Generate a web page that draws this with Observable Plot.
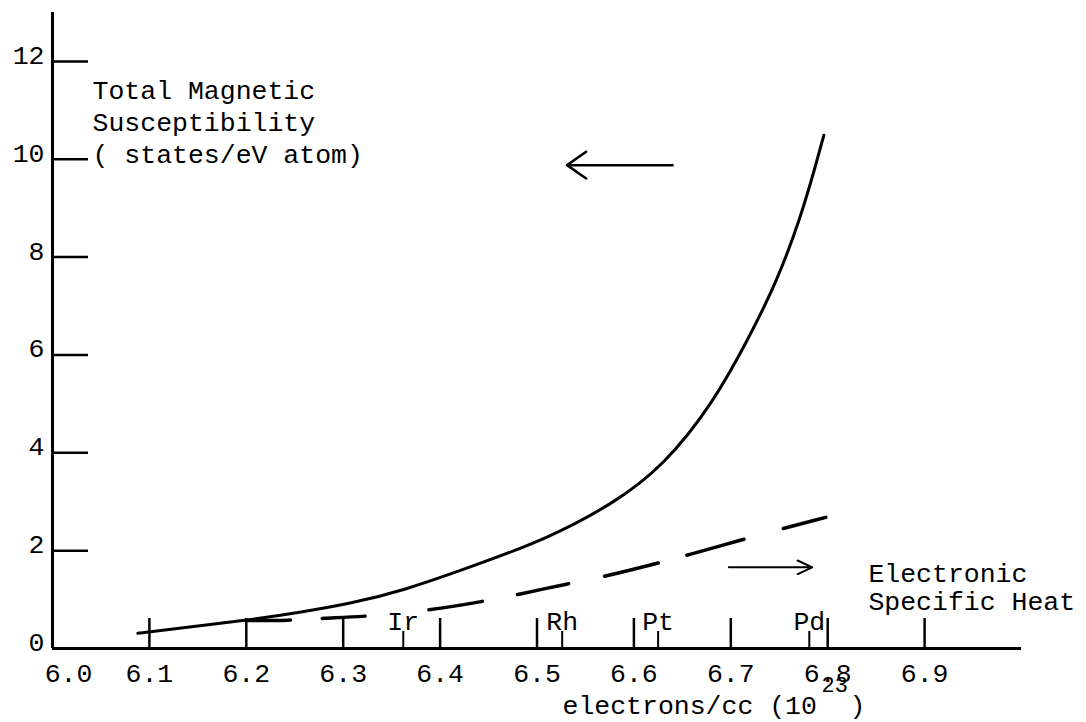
<!DOCTYPE html>
<html><head><meta charset="utf-8">
<script src="https://cdn.jsdelivr.net/npm/d3@7"></script>
<script src="https://cdn.jsdelivr.net/npm/@observablehq/plot@0.6"></script>
<style>
html,body{margin:0;padding:0;background:#fff;}
</style></head><body><div id="chart"></div>
<script>
// Total magnetic susceptibility (solid curve)
const susX = [6.088, 6.099, 6.199, 6.256, 6.307, 6.359, 6.442, 6.511, 6.579, 6.631, 6.682, 6.720, 6.748, 6.772, 6.787, 6.796];
const susY = [0.31, 0.34, 0.57, 0.74, 0.92, 1.16, 1.74, 2.25, 2.96, 3.74, 5.02, 6.40, 7.52, 8.81, 9.83, 10.49];
// Electronic specific heat (dashed curve)
const heatX = [6.199, 6.245, 6.279, 6.322, 6.389, 6.444, 6.480, 6.533, 6.570, 6.624, 6.654, 6.713, 6.753, 6.798];
const heatY = [0.57, 0.57, 0.62, 0.65, 0.78, 0.96, 1.10, 1.33, 1.47, 1.74, 1.90, 2.23, 2.45, 2.68];
// ticks
const xTicks = [6.1, 6.2, 6.3, 6.4, 6.5, 6.6, 6.7, 6.8, 6.9];
const xOrigin = [6.0];
const yTicks = [0, 2, 4, 6, 8, 10, 12];
// element markers
const elements = ["Ir", "Rh", "Pt", "Pd"];
const elementX = [6.362, 6.526, 6.625, 6.781];
// annotations
const labelTexts = ["Total Magnetic\nSusceptibility\n( states/eV atom)", "Electronic\nSpecific Heat"];
const labelX = [6.0413, 6.842];
const labelY = [9.914, 0.777];
const labelLineHeight = [1.226, 1.057];
const arrowFromX = [6.640, 6.698];
const arrowToX = [6.531, 6.784];
const arrowY = [9.88, 1.66];
const xTitleParts = ["electrons/cc (10", "23", ")"];
const xTitleX = 6.5263, xTitleY = -1.349;

const sus = susX.map((x, i) => ({x, y: susY[i]}));
const heat = heatX.map((x, i) => ({x, y: heatY[i]}));
const elementTable = elements.map((name, i) => ({name, x: elementX[i]}));
const labels = labelTexts.map((text, i) => ({text, x: labelX[i], y: labelY[i]}));
const arrows = arrowFromX.map((x1, i) => ({x1, x2: arrowToX[i], y: arrowY[i]}));
const f1 = d3.format(".1f");

const chart = Plot.plot({
  width: 1086, height: 722,
  marginLeft: 52, marginRight: 65, marginTop: 12, marginBottom: 74,
  x: {domain: [6.0, 7.0], label: null},
  y: {domain: [0, 13], label: null},
  style: {fontFamily: "'Liberation Mono', monospace", fontSize: "26.5px", color: "#000", background: "#fff"},
  marks: [
    Plot.ruleX([6.0], {stroke: "#000", strokeWidth: 3}),
    Plot.ruleY([0], {stroke: "#000", strokeWidth: 3}),
    Plot.axisY(yTicks, {tickSize: -36, strokeWidth: 2.5, tickFormat: () => "", label: null}),
    Plot.axisY(yTicks, {tickSize: 0, tickPadding: 8, dy: -6, label: null}),
    Plot.axisX(xTicks, {tickSize: -30, tickPadding: 45, strokeWidth: 2.5, tickFormat: f1, label: null}),
    Plot.axisX(xOrigin, {tickSize: 0, tickPadding: 15, dx: 16, tickFormat: f1, label: null}),
    Plot.axisX(elementX, {tickSize: -17, strokeWidth: 2, tickFormat: () => "", label: null}),
    Plot.text(elementTable, {x: "x", y: 0, text: "name", dy: -19, lineAnchor: "bottom"}),
    Plot.line(sus, {x: "x", y: "y", stroke: "#000", strokeWidth: 3, curve: "basis"}),
    Plot.line(heat, {x: "x", y: "y", stroke: "#000", strokeWidth: 3.5, strokeDasharray: "45,32,43,64,54,36,52,37,55,30,59,41,60", curve: "basis"}),
    Plot.arrow(arrows.slice(0, 1), {x1: "x1", x2: "x2", y1: "y", y2: "y", headLength: 14, headAngle: 70, strokeWidth: 2.5, stroke: "#000"}),
    Plot.arrow(arrows.slice(1), {x1: "x1", x2: "x2", y1: "y", y2: "y", headLength: 12, headAngle: 50, strokeWidth: 2, stroke: "#000"}),
    Plot.text(labels.slice(0, 1), {x: "x", y: "y", text: "text", textAnchor: "start", lineAnchor: "bottom", lineHeight: labelLineHeight[0]}),
    Plot.text(labels.slice(1), {x: "x", y: "y", text: "text", textAnchor: "start", lineAnchor: "bottom", lineHeight: labelLineHeight[1]}),
    Plot.text([xTitleParts[0]], {x: xTitleX, y: xTitleY, text: d => d, textAnchor: "start", lineAnchor: "bottom"}),
    Plot.text([xTitleParts[1]], {x: xTitleX, y: xTitleY, text: d => d, textAnchor: "start", lineAnchor: "bottom", dx: 259, dy: -22, fontSize: 22}),
    Plot.text([xTitleParts[2]], {x: xTitleX, y: xTitleY, text: d => d, textAnchor: "start", lineAnchor: "bottom", dx: 287})
  ]
});
document.getElementById("chart").appendChild(chart);
</script>
</body></html>
